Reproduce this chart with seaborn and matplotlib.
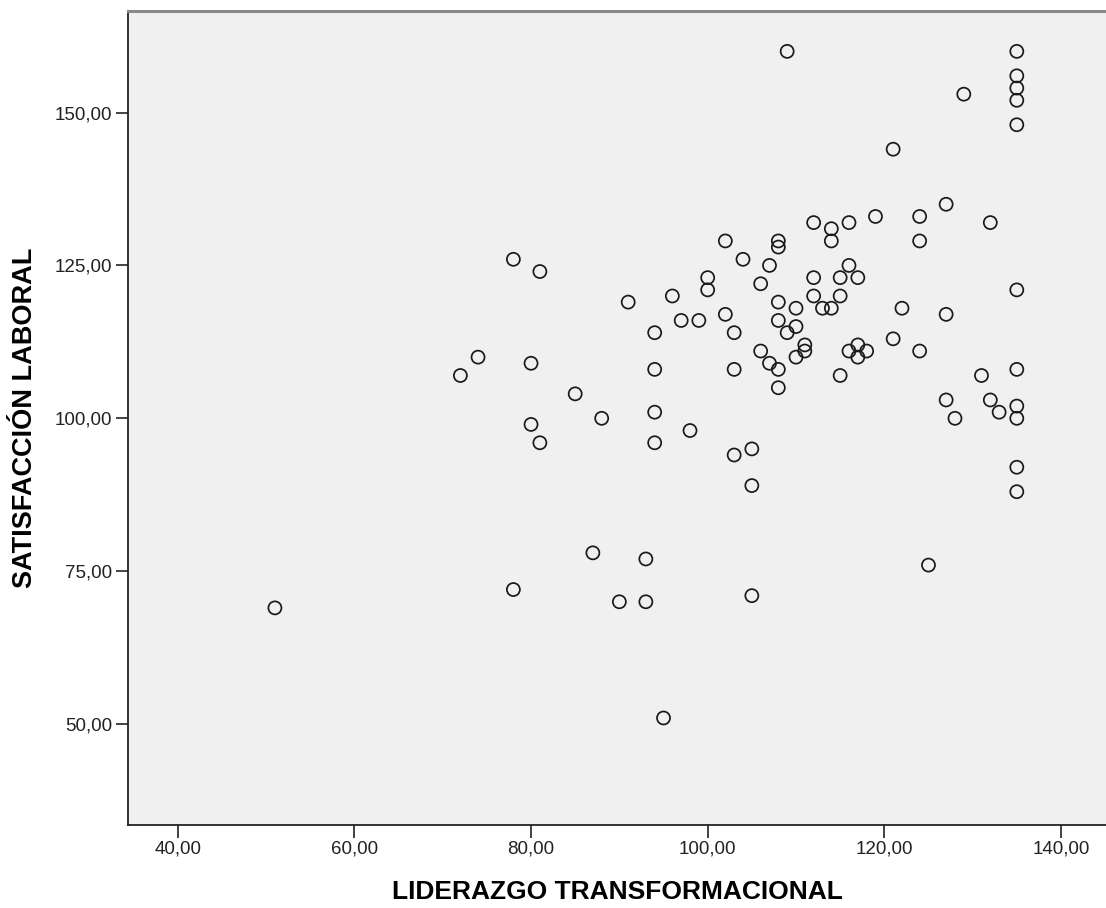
import matplotlib
matplotlib.use("Agg")
import matplotlib.pyplot as plt
from matplotlib.ticker import FuncFormatter
import seaborn as sns
import pandas as pd

liderazgo = [109, 135, 135, 135, 135, 135, 129, 121, 127, 124,
             119, 112, 116, 114, 114, 132, 124, 102, 108, 108,
             104, 107, 100, 100, 106, 112, 115, 117, 116, 135,
             112, 115, 113, 114, 122, 127, 108, 110, 108, 110,
             109, 102, 99, 103, 121, 106, 111, 111, 110, 116,
             117, 118, 117, 124, 107, 108, 103, 108, 115, 131,
             135, 127, 132, 133, 135, 135, 128, 135, 135, 103,
             105, 105, 78, 81, 91, 96, 97, 94, 94, 80,
             85, 88, 80, 81, 94, 94, 98, 74, 72, 51,
             78, 87, 93, 90, 93, 105, 125, 95]
satisfaccion = [160, 160, 156, 154, 152, 148, 153, 144, 135, 133,
                133, 132, 132, 131, 129, 132, 129, 129, 129, 128,
                126, 125, 123, 121, 122, 123, 123, 123, 125, 121,
                120, 120, 118, 118, 118, 117, 119, 118, 116, 115,
                114, 117, 116, 114, 113, 111, 112, 111, 110, 111,
                112, 111, 110, 111, 109, 108, 108, 105, 107, 107,
                108, 103, 103, 101, 102, 100, 100, 92, 88, 94,
                95, 89, 126, 124, 119, 120, 116, 114, 108, 109,
                104, 100, 99, 96, 101, 96, 98, 110, 107, 69,
                72, 78, 77, 70, 70, 71, 76, 51]

x_ticks = [40, 60, 80, 100, 120, 140]
y_ticks = [50, 75, 100, 125, 150]
x_label = "LIDERAZGO TRANSFORMACIONAL"
y_label = "SATISFACCIÓN LABORAL"

df = pd.DataFrame({"x": liderazgo, "y": satisfaccion})

sns.set_style("white")
plt.rcParams["font.family"] = ["Liberation Sans", "DejaVu Sans"]

fig = plt.figure(figsize=(11.06, 9.08), dpi=100)
ax = fig.add_axes([128.3 / 1106, 83 / 908, 1 - 128.3 / 1106, (825 - 11) / 908])
ax.set_facecolor("#F0F0F0")

sns.scatterplot(data=df, x="x", y="y", ax=ax, marker="o", s=88,
                fc="none", ec="#1a1a1a", linewidth=1.25, zorder=3)

ax.set_xlim(34.4, 145.1)
ax.set_ylim(33.5, 166.6)
ax.set_xticks(x_ticks)
ax.set_yticks(y_ticks)
fmt = FuncFormatter(lambda v, p: f"{v:.2f}".replace(".", ","))
ax.xaxis.set_major_formatter(fmt)
ax.yaxis.set_major_formatter(fmt)
ax.tick_params(axis="both", direction="out", length=9, width=1.2,
               color="#222222", labelsize=13.5, labelcolor="#222222", pad=2.5,
               bottom=True, left=True)

ax.set_xlabel(x_label, fontsize=19, fontweight="bold", color="black", labelpad=16)
ax.set_ylabel(y_label, fontsize=19.5, fontweight="bold", color="black", labelpad=12)

for side in ["left", "bottom"]:
    ax.spines[side].set_color("#222222")
    ax.spines[side].set_linewidth(1.3)
ax.spines["top"].set_color("#8a8a8a")
ax.spines["top"].set_linewidth(2.2)
ax.spines["right"].set_visible(False)
ax.grid(False)

fig.savefig("out.png", dpi=100, facecolor="white")
